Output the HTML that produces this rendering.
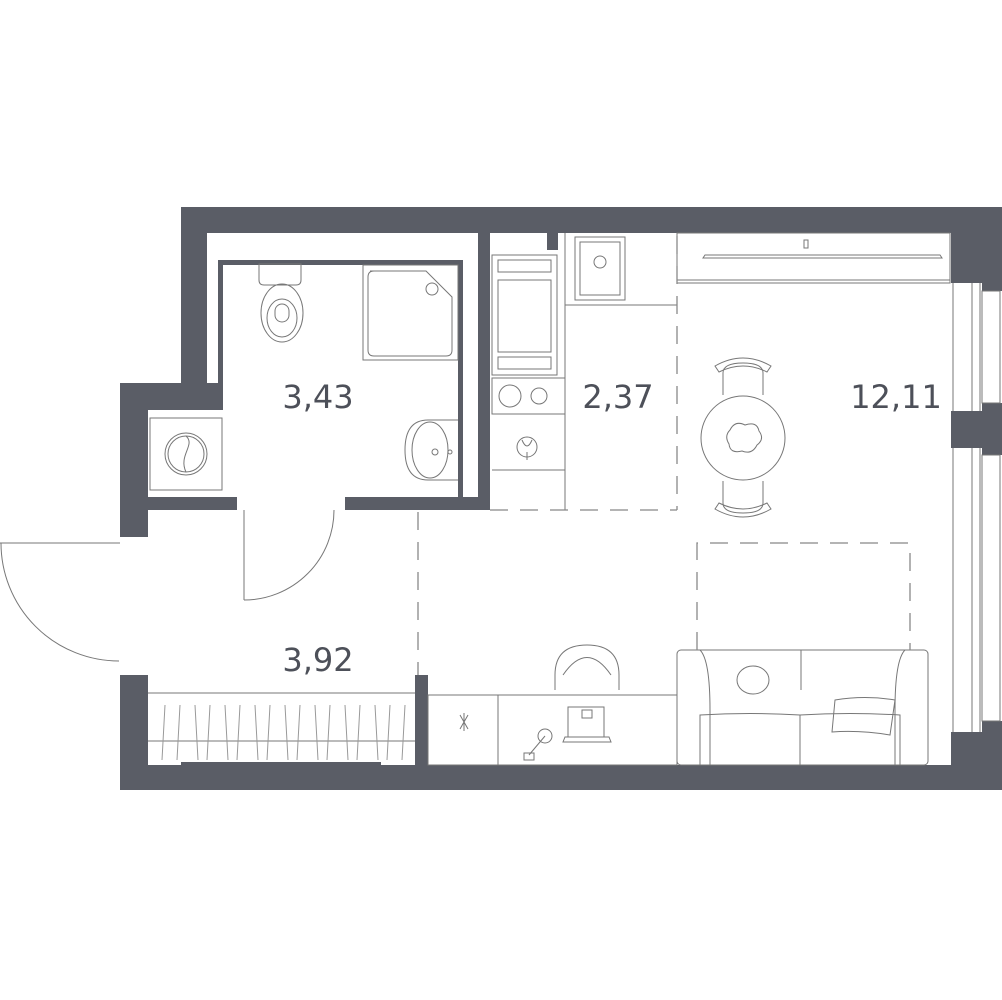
<!DOCTYPE html>
<html><head><meta charset="utf-8"><style>
html,body{margin:0;padding:0;background:#fff;}
svg{display:block;}
text{font-family:"DejaVu Sans","Liberation Sans",sans-serif;fill:#4d5059;}
</style></head><body>
<svg width="1002" height="1000" viewBox="0 0 1002 1000" xmlns="http://www.w3.org/2000/svg">
<g fill="#5a5d66">
<!-- top wall -->
<rect x="181" y="207" width="821" height="26"/>
<!-- left bath outer wall -->
<rect x="181" y="207" width="26" height="200"/>
<rect x="120" y="383" width="100" height="27"/>
<rect x="120" y="383" width="28" height="154"/>
<rect x="120" y="675" width="28" height="115"/>
<!-- bottom wall -->
<rect x="120" y="765" width="855" height="25"/>
<rect x="181" y="762" width="200" height="6"/>
<!-- walls around bath -->
<rect x="148" y="497" width="89" height="13"/>
<rect x="345" y="497" width="145" height="13"/>
<rect x="478" y="233" width="12" height="277"/>
<rect x="547" y="233" width="11" height="17"/>
<rect x="218" y="260" width="245" height="5"/>
<rect x="218" y="260" width="5" height="150"/>
<rect x="458" y="260" width="5" height="237"/>
<rect x="415" y="675" width="13" height="90"/>
<!-- right piers -->
<rect x="951" y="233" width="51" height="50"/>
<rect x="982" y="207" width="20" height="84"/>
<rect x="951" y="411" width="51" height="37"/>
<rect x="982" y="403" width="20" height="52"/>
<rect x="951" y="732" width="51" height="58"/>
<rect x="982" y="721" width="20" height="20"/>
</g>
<g fill="none" stroke="#777" stroke-width="1">
<!-- windows -->
<line x1="953" y1="283" x2="953" y2="411"/><line x1="972" y1="283" x2="972" y2="411"/><line x1="980" y1="283" x2="980" y2="411"/><rect x="982" y="291" width="18" height="112"/>
<line x1="953" y1="448" x2="953" y2="732"/><line x1="972" y1="448" x2="972" y2="732"/><line x1="980" y1="448" x2="980" y2="732"/><rect x="982" y="455" width="18" height="266"/>
<!-- doors -->
<line x1="0" y1="543" x2="120" y2="543"/>
<path d="M1 543 A118 118 0 0 0 119 661"/>
<line x1="244" y1="510" x2="244" y2="600"/>
<path d="M244 600 A90 90 0 0 0 334 510"/>
<!-- washer -->
<rect x="150" y="418" width="72" height="72"/>
<circle cx="186" cy="454" r="21"/><circle cx="186" cy="454" r="18"/>
<path d="M186 436 C196 445,178 455,186 472"/>
<!-- toilet -->
<path d="M259 264 h42 v16 q0 5 -5 5 h-32 q-5 0 -5 -5z"/>
<ellipse cx="282" cy="313" rx="21" ry="29"/><ellipse cx="282" cy="318" rx="15" ry="19"/>
<rect x="275" y="304" width="14" height="18" rx="7"/>
<!-- shower -->
<rect x="363" y="265" width="95" height="95"/>
<path d="M370 271 h56 l26 26 v53 q0 6 -6 6 h-72 q-6 0 -6 -6 v-73 q0 -6 6 -6z"/>
<circle cx="432" cy="289" r="6"/>
<!-- sink bath -->
<path d="M458 420 h-30 q-23 0 -23 30 q0 30 23 30 h30"/>
<ellipse cx="430" cy="450" rx="18" ry="28"/>
<circle cx="435" cy="452" r="3"/><circle cx="450" cy="452" r="2"/>
<!-- kitchen -->
<rect x="492" y="255" width="65" height="120"/>
<rect x="498" y="260" width="53" height="12"/><rect x="498" y="280" width="53" height="72"/><rect x="498" y="357" width="53" height="12"/>
<rect x="492" y="378" width="73" height="36"/>
<circle cx="510" cy="396" r="11"/><circle cx="539" cy="396" r="8"/>
<line x1="492" y1="414" x2="565" y2="414"/><line x1="492" y1="470" x2="565" y2="470"/>
<circle cx="527" cy="447" r="10"/><path d="M522 440 q5 12 10 0 M527 452 v8"/>
<line x1="565" y1="233" x2="565" y2="510"/>
<line x1="565" y1="305" x2="677" y2="305"/>
<rect x="575" y="237" width="50" height="63"/><rect x="580" y="242" width="40" height="53"/><circle cx="600" cy="262" r="6"/>
<!-- TV -->
<rect x="677" y="233" width="273" height="50"/>
<line x1="677" y1="280" x2="950" y2="280"/>
<path d="M705 255 h235 l2 3 h-239z"/><rect x="804" y="240" width="4" height="8"/>
<!-- dining -->
<circle cx="743" cy="438" r="42"/>
<path d="M723 395 v-22 q0 -10 20 -10 q20 0 20 10 v22 M723 481 v22 q0 10 20 10 q20 0 20 -10 v-22"/>
<path d="M715 366 q28 -16 56 0 l-4 6 q-24 -12 -48 0z M715 509 q28 16 56 0 l-4 -6 q-24 12 -48 0z"/>
<path d="M730 430 q5 -10 15 -5 q12 -4 14 6 q6 8 -2 14 q-5 10 -15 6 q-12 3 -13 -7 q-5 -8 1 -14z"/>
<!-- desk -->
<rect x="428" y="695" width="249" height="70"/><line x1="498" y1="695" x2="498" y2="765"/>
<path d="M460 715 l8 14 M460 729 l8 -14 M464 713 v18"/>
<circle cx="545" cy="736" r="7"/><line x1="545" y1="736" x2="529" y2="755"/><rect x="524" y="753" width="10" height="7"/>
<rect x="568" y="707" width="36" height="30"/><path d="M565 737 h44 l2 5 h-48z"/><rect x="582" y="710" width="10" height="8"/>
<path d="M555 690 v-15 q0 -30 32 -30 q32 0 32 30 v15"/><path d="M563 675 q24 -35 48 0"/>
<!-- sofa -->
<rect x="677" y="650" width="251" height="115" rx="4"/>
<path d="M700 650 q10 10 10 60 v55 M905 650 q-10 10 -10 60 v55"/>
<line x1="801" y1="650" x2="801" y2="690"/>
<path d="M700 715 q50 -3 100 0 v50 h-100z M800 715 q50 -3 100 0 v50 h-100z"/>
<path d="M835 700 q30 -5 60 0 l-5 35 q-30 -5 -58 -3z"/>
<ellipse cx="753" cy="680" rx="16" ry="14"/>
<!-- wardrobe -->
<line x1="148" y1="693" x2="415" y2="693"/><line x1="148" y1="741" x2="415" y2="741"/>
</g>
<g stroke="#999" stroke-width="1">
<path d="M165 705 l-3 55 M180 705 l-3 55 M195 705 l3 55 M210 705 l-3 55 M225 705 l3 55 M240 705 l-3 55 M255 705 l3 55 M270 705 l-3 55 M285 705 l3 55 M300 705 l-3 55 M315 705 l3 55 M330 705 l-3 55 M345 705 l3 55 M360 705 l-3 55 M375 705 l3 55 M390 705 l-3 55 M405 705 l-3 55"/>
</g>
<g fill="none" stroke="#888" stroke-width="1.3" stroke-dasharray="18,12">
<line x1="418" y1="512" x2="418" y2="675"/>
<line x1="490" y1="510" x2="677" y2="510"/>
<line x1="677" y1="236" x2="677" y2="510"/>
<path d="M697 650 v-107 h213 v107"/>
</g>
<g font-size="32">
<text x="318" y="408" text-anchor="middle">3,43</text>
<text x="618" y="408" text-anchor="middle">2,37</text>
<text x="896" y="408" text-anchor="middle">12,11</text>
<text x="318" y="671" text-anchor="middle">3,92</text>
</g>
</svg>
</body></html>
